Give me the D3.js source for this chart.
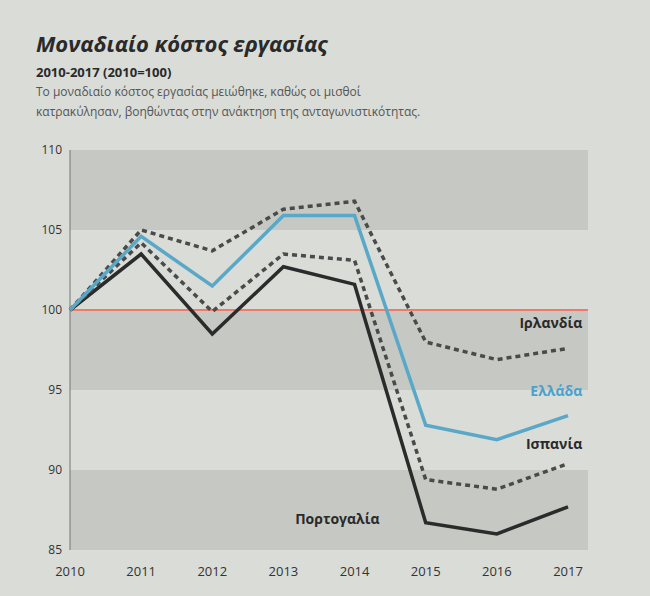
<!DOCTYPE html>
<html><head><meta charset="utf-8">
<script src="https://cdn.jsdelivr.net/npm/d3@7"></script>
<style>
body{margin:0;background:#d9dcd7;font-family:"Open Sans",sans-serif}
</style></head>
<body><svg id="grafico"></svg>
<script>
const anos = [2010, 2011, 2012, 2013, 2014, 2015, 2016, 2017];
const irlandia = [100, 105.0, 103.7, 106.3, 106.8, 98.0, 96.9, 97.6];
const ellada = [100, 104.6, 101.5, 105.9, 105.9, 92.8, 91.9, 93.4];
const ispania = [100, 104.2, 99.9, 103.5, 103.1, 89.4, 88.8, 90.4];
const portogalia = [100, 103.5, 98.5, 102.7, 101.6, 86.7, 86.0, 87.7];
const ticksY = [85, 90, 95, 100, 105, 110];

const svg = d3.select('#grafico').attr('width', 650).attr('height', 596);
const margem = {esquerda: 70, direita: 82, superior: 150, inferior: 46};
const largura = 650 - margem.esquerda - margem.direita;
const altura = 596 - margem.superior - margem.inferior;

const x = d3.scaleLinear().domain([2010, 2017]).range([margem.esquerda, margem.esquerda + largura]);
const y = d3.scaleLinear().domain([85, 110]).range([margem.superior + altura, margem.superior]);

// titulos
svg.append('text').attr('x', 36).attr('y', 52).text('Μοναδιαίο κόστος εργασίας')
  .attr('font-size', 22).attr('font-weight', 'bold').attr('font-style', 'italic').attr('fill', '#2a2a2a');
svg.append('text').attr('x', 36).attr('y', 77).text('2010-2017 (2010=100)')
  .attr('font-size', 13).attr('font-weight', 'bold').attr('fill', '#2a2a2a');
svg.append('text').attr('x', 36).attr('y', 96).text('Το μοναδιαίο κόστος εργασίας μειώθηκε, καθώς οι μισθοί')
  .attr('font-size', 12).attr('fill', '#555');
svg.append('text').attr('x', 36).attr('y', 116).text('κατρακύλησαν, βοηθώντας στην ανάκτηση της ανταγωνιστικότητας.')
  .attr('font-size', 12).attr('fill', '#555');

// zonas
[[105, 110], [95, 100], [85, 90]].forEach(([a, b]) => {
  svg.append('rect').attr('x', x(2010)).attr('y', y(b))
    .attr('width', largura + 20).attr('height', y(a) - y(b)).attr('fill', '#c6c8c3');
});

svg.append('line').attr('x1', x(2010)).attr('x2', x(2010)).attr('y1', y(110)).attr('y2', y(85))
  .attr('stroke', '#777');
svg.append('line').attr('x1', x(2010)).attr('x2', x(2017) + 20).attr('y1', y(100)).attr('y2', y(100))
  .attr('stroke', '#f07a68').attr('stroke-width', 2);

svg.append('g').selectAll('text').data(ticksY).enter().append('text')
  .attr('x', x(2010) - 8).attr('y', d => y(d)).attr('dy', 4).attr('text-anchor', 'end')
  .attr('font-size', 12).attr('fill', '#333').text(d => d);
svg.append('g').selectAll('text').data(anos).enter().append('text')
  .attr('x', d => x(d)).attr('y', y(85) + 26).attr('text-anchor', 'middle')
  .attr('font-size', 13).attr('fill', '#333').text(d => d);

const linha = d3.line().x((d, i) => x(anos[i])).y(d => y(d));
const series = [
  {dados: portogalia, cor: '#2b2b2b', tracejado: null},
  {dados: ispania, cor: '#4a4a4a', tracejado: '5,4'},
  {dados: irlandia, cor: '#4a4a4a', tracejado: '5,4'},
  {dados: ellada, cor: '#5aa8c8', tracejado: null}
];
series.forEach(s => {
  svg.append('path').datum(s.dados).attr('d', linha).attr('fill', 'none')
    .attr('stroke', s.cor).attr('stroke-width', 3.5)
    .attr('stroke-dasharray', s.tracejado);
});

const rotulos = [
  {t: 'Ιρλανδία', x: 2017.2, v: 98.9, cor: '#2a2a2a'},
  {t: 'Ελλάδα', x: 2017.2, v: 94.6, cor: '#4aa2cc'},
  {t: 'Ισπανία', x: 2017.2, v: 91.3, cor: '#2a2a2a'},
  {t: 'Πορτογαλία', x: 2014.35, v: 86.6, cor: '#2a2a2a'}
];
svg.append('g').selectAll('text').data(rotulos).enter().append('text')
  .attr('x', d => x(d.x)).attr('y', d => y(d.v)).attr('text-anchor', 'end')
  .attr('font-size', 14).attr('font-weight', 'bold').attr('fill', d => d.cor).text(d => d.t);
</script>
</body></html>
